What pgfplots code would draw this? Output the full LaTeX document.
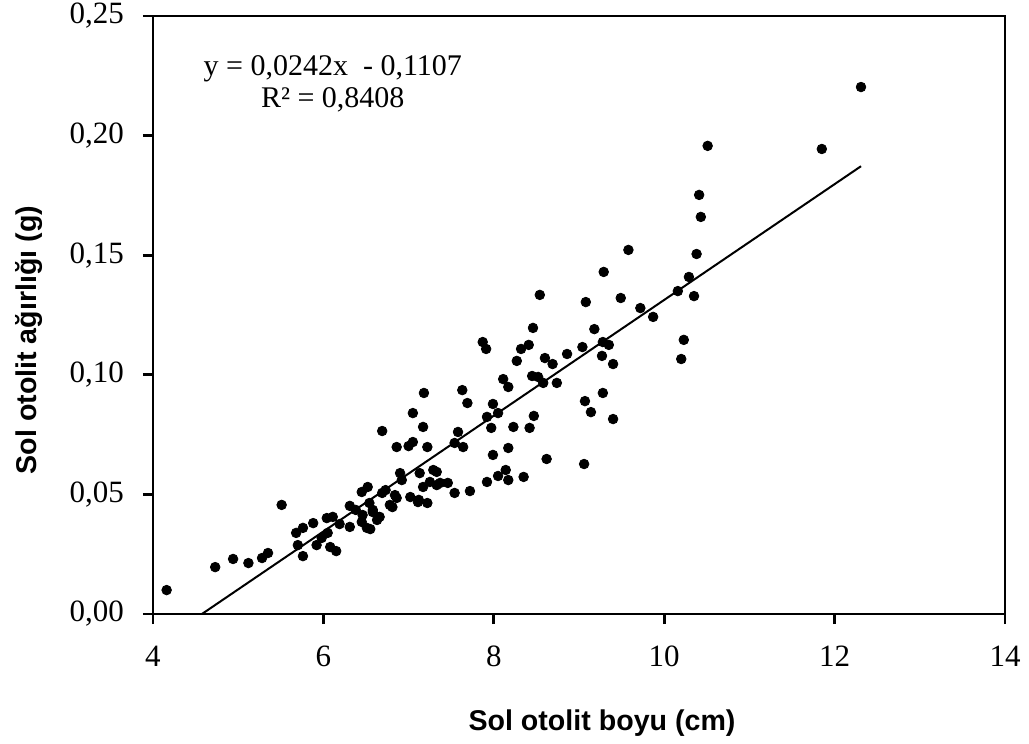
\documentclass[border=0pt]{standalone}
\usepackage{fontspec}
\setmainfont{Liberation Serif}
\newfontfamily\arialfont{Liberation Sans}
\usepackage{pgfplots}
\pgfplotsset{compat=1.18}

\begin{document}
\begin{tikzpicture}
\begin{axis}[
    name=ax,
    scale only axis,
    width=426pt, height=299pt,
    xmin=4, xmax=14, ymin=0, ymax=0.25,
    xtick={4,6,8,10,12,14},
    ytick={0,0.05,0.10,0.15,0.20,0.25},
    xtick pos=left, ytick pos=left,
    tick align=outside,
    major tick length=5pt,
    axis line style={line width=1.4pt},
    every tick/.style={black, line width=1.4pt},
    /pgf/number format/assume math mode=true,
    yticklabel style={xshift=-6pt, /pgf/number format/.cd, fixed, fixed zerofill, precision=2, use comma},
    xticklabel style={yshift=-7.5pt},
    ticklabel style={font=\fontsize{15.5}{18}\selectfont},
    scaled y ticks=false,
    xlabel={\arialfont\bfseries Sol otolit boyu (cm)},
    ylabel={\arialfont\bfseries Sol otolit ağırlığı (g)},
    xlabel style={at={(axis description cs:0.527,-0.194)}, anchor=base, font=\fontsize{14.3}{16}\selectfont},
    ylabel style={at={(axis description cs:-0.1373,0.458)}, anchor=base, font=\fontsize{14.3}{16}\selectfont},
    clip=false,
]
% measurements
\addplot[only marks, mark=*, mark size=2.4pt, black] coordinates {
(4.16,0.0100) (4.73,0.0196) (4.94,0.0230) (5.12,0.0213) (5.28,0.0234) (5.35,0.0255)
(5.51,0.0456) (5.68,0.0339) (5.76,0.0360) (5.88,0.0380) (5.70,0.0288) (5.76,0.0242)
(5.92,0.0288) (5.98,0.0318) (6.05,0.0339) (6.08,0.0280) (6.15,0.0263) (6.04,0.0401)
(6.11,0.0406) (6.19,0.0376) (6.31,0.0364) (6.31,0.0452) (6.38,0.0435) (6.45,0.0510)
(6.52,0.0531) (6.54,0.0464) (6.58,0.0435) (6.55,0.0355) (6.66,0.0406) (6.69,0.0506)
(6.73,0.0518) (6.69,0.0765) (6.86,0.0698) (7.00,0.0702) (7.05,0.0719) (7.05,0.0840)
(7.17,0.0782) (7.22,0.0698) (6.90,0.0589) (6.92,0.0560) (6.86,0.0485) (6.81,0.0447)
(7.02,0.0489) (7.12,0.0477) (7.13,0.0589) (7.17,0.0531) (7.22,0.0464) (7.25,0.0552)
(7.29,0.0602) (7.33,0.0594) (7.33,0.0539) (7.46,0.0548) (7.54,0.0506) (7.54,0.0715)
(7.58,0.0761) (7.18,0.0924) (7.63,0.0936) (7.69,0.0882) (7.99,0.0878) (7.92,0.0824)
(8.05,0.0840) (7.97,0.0778) (8.23,0.0782) (8.42,0.0778) (8.47,0.0828) (9.07,0.0890)
(9.14,0.0844) (9.28,0.0924) (9.40,0.0815) (7.64,0.0698) (7.99,0.0665) (8.17,0.0694)
(8.62,0.0648) (9.06,0.0627) (7.72,0.0514) (7.92,0.0552) (8.05,0.0577) (8.14,0.0602)
(8.17,0.0560) (8.35,0.0573) (7.87,0.1137) (7.91,0.1108) (8.46,0.1196) (9.18,0.1191)
(8.32,0.1108) (8.41,0.1125) (8.27,0.1058) (8.60,0.1070) (8.69,0.1045) (8.86,0.1087)
(9.04,0.1116) (9.28,0.1137) (9.35,0.1125) (9.27,0.1079) (9.40,0.1045) (8.11,0.0982)
(8.17,0.0949) (8.45,0.0995) (8.52,0.0991) (8.58,0.0966) (8.74,0.0966) (9.58,0.1522)
(9.29,0.1430) (8.54,0.1334) (9.08,0.1304) (9.49,0.1321) (9.72,0.1279) (9.87,0.1242)
(10.38,0.1505) (10.29,0.1409) (10.16,0.1350) (10.35,0.1329) (10.23,0.1146) (10.20,0.1066)
(10.41,0.1752) (10.43,0.1660) (10.51,0.1957) (11.85,0.1944) (12.31,0.2203)
(6.84,0.0497) (6.78,0.0456) (7.11,0.0468) (6.46,0.0414) (6.58,0.0426) (6.63,0.0393)
(6.45,0.0385) (6.51,0.0360) (7.37,0.0548)
};
% linear trend
\addplot[black, line width=1pt] coordinates {(4.5744,0) (12.31,0.1872)};
\node[align=center, font=\fontsize{15}{16}\selectfont, inner sep=0pt]
    at (axis cs:6.11,0.2216) {y = 0,0242x\ \ - 0,1107\\R² = 0,8408};
\end{axis}
\pgfresetboundingbox
\path[use as bounding box] ([shift={(-76.5pt,-65pt)}]ax.south west) rectangle ([shift={(12pt,8pt)}]ax.north east);
\end{tikzpicture}
\end{document}
